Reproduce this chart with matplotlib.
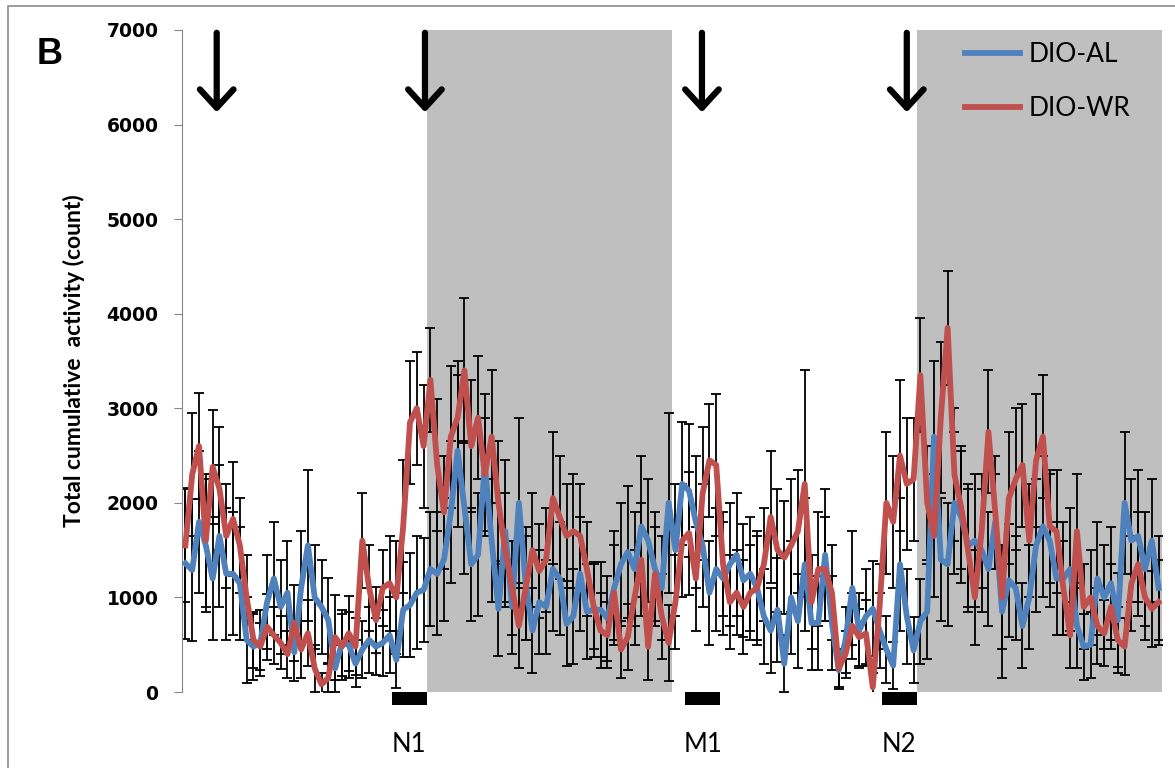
import numpy as np
import matplotlib
matplotlib.use("Agg")
import matplotlib.pyplot as plt
from matplotlib.patches import Rectangle
from matplotlib import transforms

# 20-min bins over 48 h (144 points)
al_mean = [1360, 1290, 1800, 1550, 1200, 1650, 1250, 1250, 1150, 550, 480, 520,
           950, 1200, 900, 1050, 420, 1100, 1550, 1000, 900, 760, 250, 520,
           500, 300, 450, 550, 480, 520, 600, 340, 870, 920, 1050, 1080,
           1300, 1250, 1400, 1900, 2550, 1950, 1350, 1450, 2400, 1600, 880, 1700,
           900, 2000, 1150, 650, 950, 900, 1300, 1200, 720, 800, 1250, 850,
           870, 870, 780, 1100, 1350, 1480, 1300, 1750, 1600, 1300, 1100, 2000,
           1500, 2200, 2130, 1800, 1550, 1050, 1300, 1200, 1350, 1450, 1180, 1250,
           1100, 800, 650, 870, 300, 1000, 750, 1350, 730, 730, 1450, 730,
           230, 550, 1100, 650, 800, 880, 650, 450, 280, 1350, 800, 440,
           750, 850, 2700, 1400, 1350, 2000, 1850, 1550, 1600, 1500, 1300, 1800,
           850, 1180, 1100, 700, 1000, 1550, 1750, 1600, 1200, 1200, 1300, 700,
           480, 500, 1200, 1000, 1150, 760, 2000, 1600, 1650, 1300, 1600, 1100]
al_err = [800, 750, 750, 700, 650, 750, 700, 650, 600, 450, 350, 350,
          500, 600, 500, 550, 300, 600, 800, 550, 500, 450, 250, 350,
          350, 250, 300, 350, 300, 350, 400, 300, 500, 550, 600, 550,
          600, 650, 650, 750, 800, 700, 600, 650, 750, 650, 500, 750,
          500, 900, 600, 450, 550, 500, 650, 600, 450, 500, 600, 500,
          500, 500, 450, 600, 650, 700, 600, 750, 650, 600, 550, 950,
          700, 650, 700, 700, 650, 550, 650, 600, 650, 650, 600, 600,
          600, 500, 450, 550, 300, 600, 500, 700, 500, 500, 700, 500,
          200, 350, 600, 400, 500, 500, 400, 350, 250, 700, 500, 350,
          450, 500, 800, 650, 650, 750, 700, 650, 700, 650, 600, 500,
          700, 600, 550, 450, 550, 700, 750, 700, 600, 600, 650, 450,
          350, 350, 600, 550, 600, 500, 750, 650, 700, 600, 650, 550]

wr_mean = [1550, 2300, 2600, 1600, 2380, 2150, 1650, 1830, 1550, 1000, 550, 480,
           690, 600, 520, 400, 730, 450, 620, 250, 80, 150, 580, 480,
           620, 480, 1600, 1100, 760, 1100, 1150, 1000, 1750, 2850, 3000, 2600,
           3300, 2400, 1900, 2700, 2900, 3400, 2600, 2900, 2300, 2700, 2000, 1500,
           1100, 700, 1100, 1500, 1280, 1400, 2050, 1850, 1650, 1700, 1650, 1300,
           900, 650, 600, 1050, 450, 580, 1000, 1400, 480, 1250, 800, 520,
           950, 1600, 1680, 1200, 2100, 2450, 2400, 1350, 950, 1050, 900, 1050,
           1100, 1350, 1850, 1500, 1420, 1550, 1700, 2200, 950, 1300, 1300, 1050,
           250, 400, 700, 580, 620, 50, 900, 2000, 1800, 2500, 2200, 2250,
           3350, 2000, 1650, 2900, 3850, 2300, 1950, 1500, 1000, 1700, 2750, 1900,
           1000, 2050, 2250, 2400, 1600, 2450, 2700, 1750, 1700, 1100, 600, 1700,
           900, 1000, 700, 620, 900, 550, 480, 1150, 1350, 1000, 880, 950]
wr_err = [600, 650, 560, 700, 600, 650, 550, 600, 500, 450, 300, 250,
          350, 300, 280, 250, 400, 300, 350, 250, 120, 150, 450, 350,
          400, 300, 500, 450, 350, 400, 500, 600, 700, 650, 600, 650,
          550, 700, 600, 750, 600, 770, 700, 650, 600, 700, 650, 600,
          500, 450, 550, 600, 500, 550, 700, 650, 550, 600, 550, 500,
          450, 400, 350, 500, 300, 350, 500, 600, 350, 500, 450, 400,
          500, 600, 650, 550, 700, 600, 750, 550, 500, 450, 500, 500,
          550, 600, 700, 650, 600, 700, 650, 1200, 500, 600, 550, 500,
          200, 250, 350, 300, 350, 150, 450, 750, 700, 800, 700, 650,
          600, 600, 650, 800, 600, 700, 650, 650, 500, 600, 650, 600,
          550, 700, 750, 650, 600, 700, 650, 600, 650, 500, 350, 600,
          450, 500, 400, 350, 450, 350, 300, 500, 550, 450, 400, 450]

dark_periods = [(35.5, 71.5), (107.5, 143.5)]
arrow_x = [4.6, 35.2, 75.9, 106.0]
meal_bars = [(30.3, 35.5, "N1"), (73.4, 78.6, "M1"), (102.3, 107.5, "N2")]

x = np.arange(len(al_mean))
blue = "#4F81BD"
red = "#C0504D"

fig = plt.figure(figsize=(11.75, 7.68), dpi=100)
ax = fig.add_axes([182 / 1175, 1 - 692 / 768, 980 / 1175, 662 / 768])

for a, b in dark_periods:
    ax.axvspan(a, b, color="#BFBFBF", lw=0, zorder=0)

ax.errorbar(x, al_mean, yerr=al_err, fmt="none", ecolor="black", elinewidth=1.3,
            capsize=3.5, capthick=1.3, zorder=2)
ax.errorbar(x, wr_mean, yerr=wr_err, fmt="none", ecolor="black", elinewidth=1.3,
            capsize=3.5, capthick=1.3, zorder=2)
ax.plot(x, al_mean, color=blue, lw=4.2, zorder=3, label="DIO-AL")
ax.plot(x, wr_mean, color=red, lw=4.2, zorder=4, label="DIO-WR")

ax.set_xlim(-0.5, 143.5)
ax.set_ylim(0, 7000)
ax.set_yticks(range(0, 7001, 1000))
ax.set_xticks([])
for s in ["top", "right", "bottom"]:
    ax.spines[s].set_visible(False)
ax.spines["left"].set_color("#868686")
ax.tick_params(axis="y", direction="out", length=6, color="#868686", pad=11,
               labelsize=13.5)
for t in ax.get_yticklabels():
    t.set_fontweight("bold")

ax.set_ylabel("Total cumulative  activity (count)", family="Lato",
              fontsize=16.5, fontweight="bold")
ax.yaxis.set_label_coords(-0.099, 0.5)

for xa in arrow_x:
    ax.annotate("", xy=(xa, 6100), xytext=(xa, 7000),
                arrowprops=dict(arrowstyle="->,head_length=0.6,head_width=0.55",
                                lw=4.5, color="black", mutation_scale=22),
                annotation_clip=False, zorder=5)

trans = transforms.blended_transform_factory(ax.transData, ax.transAxes)
for a, b, lab in meal_bars:
    ax.add_patch(Rectangle((a, -0.0196), b - a, 0.0196, transform=trans,
                           color="black", clip_on=False, lw=0))
    ax.text((a + b) / 2, -0.08, lab, transform=trans, ha="center", va="center",
            family="Lato", fontsize=18.5)

ax.legend(loc="upper left", bbox_to_anchor=(965 / 1175, 1 - 42 / 768),
          bbox_transform=fig.transFigure, frameon=False, borderpad=0,
          borderaxespad=0, handlelength=2.1, handletextpad=0.3,
          labelspacing=1.1, prop={"family": "Lato", "size": 19})

fig.text(50 / 1175, 1 - 55 / 768, "B", family="Liberation Sans", fontweight="bold",
         fontsize=26, ha="center", va="center")
fig.patches.append(Rectangle((8 / 1175, -0.01), 1.1, 1 - 6 / 768 + 0.01,
                             transform=fig.transFigure, fill=False,
                             edgecolor="#8c8c8c", lw=1.2))

fig.savefig("out.png", dpi=100)
